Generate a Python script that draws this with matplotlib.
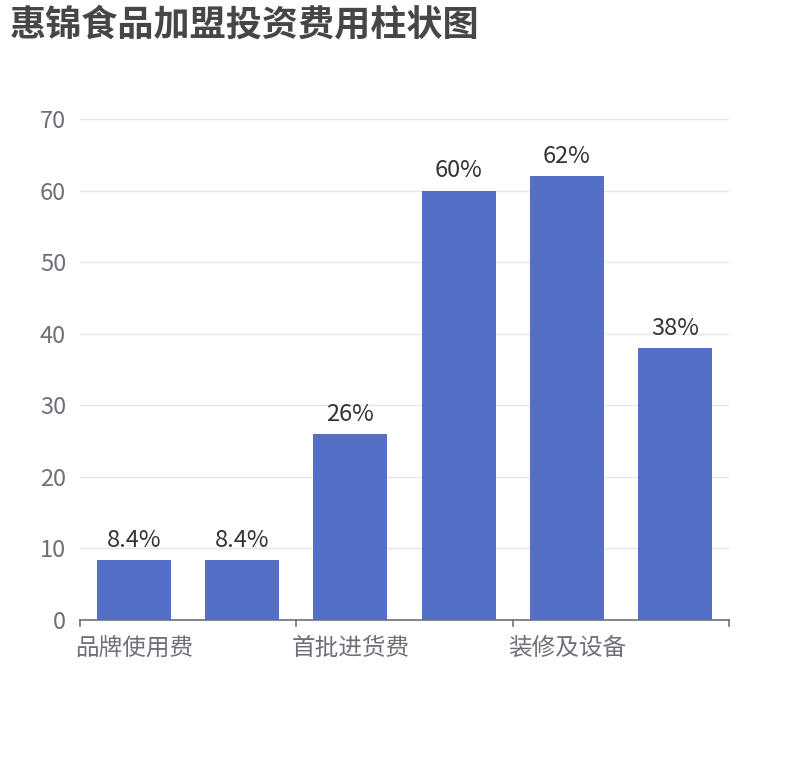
import matplotlib.pyplot as plt
from matplotlib.lines import Line2D

plt.rcParams['font.family'] = ['Noto Sans CJK SC', 'DejaVu Sans']

# datos del gráfico
title = '惠锦食品加盟投资费用柱状图'
categories = ['品牌使用费', '', '首批进货费', '', '装修及设备', '']
values = [8.4, 8.4, 26, 60, 62, 38]
yticks = [0, 10, 20, 30, 40, 50, 60, 70]

fig = plt.figure(figsize=(8.1, 7.6), dpi=100)
ax = fig.add_axes([80 / 810, 1 - 620 / 760, 649 / 810, 501 / 760])

x = list(range(len(values)))
ax.bar(x, values, width=0.685, color='#5470c6', zorder=3)

# etiquetas de valor encima de cada barra
for xi, v in zip(x, values):
    ax.annotate('{:g}%'.format(v), (xi, v), xytext=(0, 6), textcoords='offset points',
                ha='center', va='bottom', fontsize=17, color='#333333')

ax.set_xlim(-0.5, len(values) - 0.5)
ax.set_ylim(0, 70)
ax.set_yticks(yticks)
ax.set_yticklabels([str(t) for t in yticks], fontsize=17, color='#6E7079')
ax.tick_params(axis='y', length=0, pad=10)
ax.grid(axis='y', color='#E0E6F1', linewidth=1, zorder=0)

ax.set_xticks(x)
ax.set_xticklabels(categories, fontsize=17, color='#6E7079')
ax.tick_params(axis='x', length=0, pad=12)

# marcas del eje x cada dos categorías
for b in [-0.5, 1.5, 3.5, 5.5]:
    ax.add_line(Line2D([b, b], [0, -6 / 501], transform=ax.get_xaxis_transform(),
                       color='#6E7079', linewidth=1.2, clip_on=False))

for s in ['top', 'right', 'left']:
    ax.spines[s].set_visible(False)
ax.spines['bottom'].set_color('#6E7079')
ax.spines['bottom'].set_linewidth(1.2)

fig.text(10 / 810, 1 - 7 / 760, title, fontsize=26, fontweight='bold',
         color='#464646', ha='left', va='top')

plt.savefig('out.png', dpi=100)
